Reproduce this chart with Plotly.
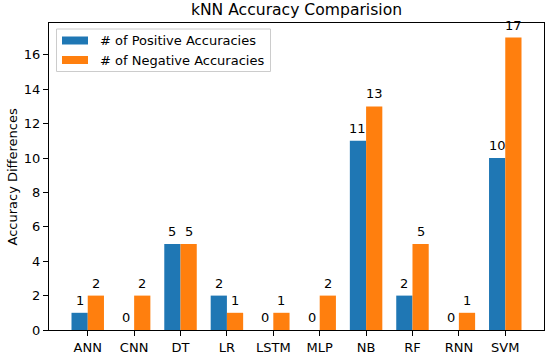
import plotly.graph_objects as go

categories = ["ANN", "CNN", "DT", "LR", "LSTM", "MLP", "NB", "RF", "RNN", "SVM"]
positive = [1, 0, 5, 2, 0, 0, 11, 2, 0, 10]
negative = [2, 2, 5, 1, 1, 2, 13, 5, 1, 17]
series_names = ["# of Positive Accuracies", "# of Negative Accuracies"]
series_colors = ["#1f77b4", "#ff7f0e"]
y_ticks = [0, 2, 4, 6, 8, 10, 12, 14, 16]

W = 0.35
xs = list(range(len(categories)))
FONT = "DejaVu Sans"

# plot area in pixels
L, R, T, B = 49, 544, 23, 330
def px(x):
    return (x - L) / (R - L)
def py(y):
    return (B - y) / (B - T)

fig = go.Figure()
for vals, name, color, off in [(positive, series_names[0], series_colors[0], -W),
                               (negative, series_names[1], series_colors[1], 0)]:
    fig.add_trace(go.Bar(x=xs, y=vals, name=name, width=W, offset=off, showlegend=False,
                         marker=dict(color=color, line=dict(width=0))))

annotations = []
for vals, sign in [(positive, -1), (negative, 1)]:
    for i, v in enumerate(vals):
        annotations.append(dict(x=i + sign * W / 2, y=v, text=str(v), showarrow=False,
                                yanchor="bottom", yshift=3,
                                font=dict(size=13, color="black", family=FONT)))

# y-axis title
annotations.append(dict(xref="paper", yref="paper", x=px(12), y=0.5, text="Accuracy Differences",
                        textangle=-90, showarrow=False, xanchor="center", yanchor="middle",
                        font=dict(size=13, color="black", family=FONT)))

# custom legend (matplotlib style)
shapes = [dict(type="rect", xref="paper", yref="paper",
               x0=px(56.5), x1=px(270.5), y0=py(71.5), y1=py(29),
               line=dict(color="#cccccc", width=1), fillcolor="rgba(255,255,255,0.8)", layer="above")]
for k, (name, color) in enumerate(zip(series_names, series_colors)):
    cy = 40.5 + 19.5 * k
    shapes.append(dict(type="rect", xref="paper", yref="paper",
                       x0=px(62), x1=px(88), y0=py(cy + 4), y1=py(cy - 4),
                       line=dict(width=0), fillcolor=color, layer="above"))
    annotations.append(dict(xref="paper", yref="paper", x=px(98), y=py(cy), text=name,
                            showarrow=False, xanchor="left", yanchor="middle",
                            font=dict(size=13, color="black", family=FONT)))

fig.update_layout(
    width=550, height=354,
    margin=dict(l=L, r=550 - R, t=T, b=354 - B),
    plot_bgcolor="white", paper_bgcolor="white",
    font=dict(family=FONT, size=13, color="black"),
    barmode="overlay",
    showlegend=False,
    title=dict(text="kNN Accuracy Comparision", x=(L + R) / 2 / 550, xanchor="center",
               y=1 - 10 / 354, yanchor="middle", yref="container",
               font=dict(size=15.6, family=FONT, color="black")),
    xaxis=dict(range=[-0.835, 9.835], tickvals=xs, ticktext=categories, automargin=False,
               showline=True, linecolor="black", linewidth=1, mirror=True,
               ticks="outside", ticklen=5, tickcolor="black", showgrid=False, zeroline=False,
               tickfont=dict(size=13)),
    yaxis=dict(range=[0, 17.85], tickvals=y_ticks, automargin=False,
               showline=True, linecolor="black", linewidth=1, mirror=True,
               ticks="outside", ticklen=5, tickcolor="black", showgrid=False, zeroline=False,
               tickfont=dict(size=13)),
    shapes=shapes,
    annotations=annotations,
)

fig.write_html("out.html", config={"displayModeBar": False},
               post_script="document.body.style.margin='0';document.body.style.overflow='hidden';")
